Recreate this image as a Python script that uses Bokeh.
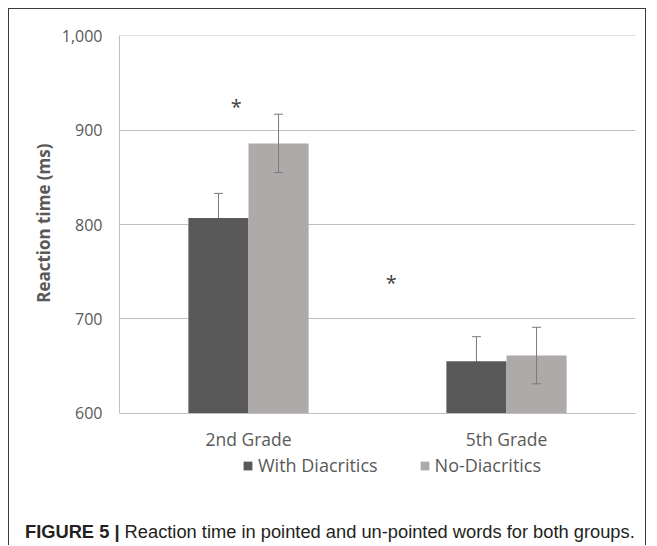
from bokeh.plotting import figure
from bokeh.models import (ColumnDataSource, Range1d, FixedTicker, NumeralTickFormatter,
                          Whisker, TeeHead, Legend, LegendItem, Div, Title)
from bokeh.transform import dodge
from bokeh.core.properties import value
from bokeh.embed import file_html
from bokeh.resources import INLINE

# ---- data ----
grades = ["2nd Grade", "5th Grade"]
series_names = ["With Diacritics", "No-Diacritics"]
with_diacritics = [807, 655]
with_err = [26, 26]
no_diacritics = [886, 661]
no_err = [31, 30]
y_ticks = [600, 700, 800, 900, 1000]
y_title = "Reaction time (ms)"
star_grades = ["2nd Grade", "5th Grade"]
star_y = [925, 739]
caption_bold = "FIGURE 5 |"
caption_text = "Reaction time in pointed and un-pointed words for both groups."

DARK = "#595959"
LIGHT = "#aeaaaa"
GRID = "#bfbfbf"
TXT = "#595959"
FONT = "Open Sans"
FRAME_BORDER = "1px solid #3a3a3a"
BASE = y_ticks[0]

src = ColumnDataSource(dict(
    grade=grades,
    wd=with_diacritics,
    wd_up=[v + e for v, e in zip(with_diacritics, with_err)],
    wd_lo=[v - e for v, e in zip(with_diacritics, with_err)],
    nd=no_diacritics,
    nd_up=[v + e for v, e in zip(no_diacritics, no_err)],
    nd_lo=[v - e for v, e in zip(no_diacritics, no_err)],
))

# the frame extends below the 600 baseline to leave room for the legend
p = figure(x_range=grades, y_range=Range1d(529.5, 1000.5), width=638, height=506,
           output_backend="svg", toolbar_location=None,
           min_border_left=110, min_border_right=12, min_border_top=26, min_border_bottom=36)
p.styles = {"margin-left": "8px", "margin-top": "8px",
            "border-left": FRAME_BORDER, "border-top": FRAME_BORDER, "border-right": FRAME_BORDER}
p.outline_line_color = None
p.background_fill_color = "white"
p.border_fill_color = "white"

bw = 0.233
off = bw / 2
r1 = p.vbar(x=dodge("grade", -off, range=p.x_range), top="wd", bottom=BASE, width=bw,
            source=src, fill_color=DARK, line_color=None)
r2 = p.vbar(x=dodge("grade", off, range=p.x_range), top="nd", bottom=BASE, width=bw,
            source=src, fill_color=LIGHT, line_color=None)

ecol = "#7a7a7a"
w1 = Whisker(base=dodge("grade", -off, range=p.x_range), upper="wd_up", lower="wd_lo", source=src,
             line_color=ecol, line_width=1, level="underlay",
             upper_head=TeeHead(size=9, line_color=ecol, line_width=1),
             lower_head=TeeHead(size=9, line_color=ecol, line_width=1))
w2 = Whisker(base=dodge("grade", off, range=p.x_range), upper="nd_up", lower="nd_lo", source=src,
             line_color=ecol, line_width=1, level="overlay",
             upper_head=TeeHead(size=9, line_color=ecol, line_width=1),
             lower_head=TeeHead(size=9, line_color=ecol, line_width=1))
p.add_layout(w1)
p.add_layout(w2)

# significance asterisks
s1 = ColumnDataSource(dict(x=[star_grades[0]], y=[star_y[0]], t=["*"]))
s2 = ColumnDataSource(dict(x=[star_grades[1]], y=[star_y[1]], t=["*"]))
p.text(x=dodge("x", -0.047, range=p.x_range), y="y", text="t", source=s1,
       text_align="center", text_baseline="middle", text_font=value(FONT),
       text_font_size="20px", text_color="#404040")
p.text(x=dodge("x", -0.447, range=p.x_range), y="y", text="t", source=s2,
       text_align="center", text_baseline="middle", text_font=value(FONT),
       text_font_size="20px", text_color="#404040")

# axes
p.yaxis.ticker = FixedTicker(ticks=y_ticks)
p.yaxis.bounds = (y_ticks[0], y_ticks[-1])
p.yaxis.formatter = NumeralTickFormatter(format="0,0")
p.yaxis.axis_line_color = GRID
p.yaxis.major_tick_line_color = None
p.yaxis.minor_tick_line_color = None
p.yaxis.major_tick_out = 0
p.yaxis.major_label_standoff = 17
p.yaxis.major_label_text_font = FONT
p.yaxis.major_label_text_font_size = "16px"
p.yaxis.major_label_text_color = TXT

# y-axis title: placed as a left-side title so it centres on the 600-1000 span
ytitle = Title(text=y_title, align="right", offset=108, standoff=7,
               text_font=FONT, text_font_style="bold", text_font_size="17px",
               text_color=TXT)
p.add_layout(ytitle, "left")

p.xaxis.fixed_location = BASE
p.xaxis.axis_line_color = GRID
p.xaxis.major_tick_line_color = None
p.xaxis.minor_tick_line_color = None
p.xaxis.major_tick_out = 0
p.xaxis.major_label_standoff = 14
p.xaxis.major_label_text_font = FONT
p.xaxis.major_label_text_font_size = "17.5px"
p.xaxis.major_label_text_color = TXT

p.xgrid.grid_line_color = None
p.ygrid.grid_line_color = GRID
p.ygrid.ticker = FixedTicker(ticks=y_ticks)

legend = Legend(items=[LegendItem(label=series_names[0], renderers=[r1]),
                       LegendItem(label=series_names[1], renderers=[r2])],
                orientation="horizontal", location=(123, 2),
                glyph_width=11, glyph_height=11, label_standoff=5, spacing=41,
                padding=0, margin=0, border_line_color=None, background_fill_alpha=0,
                label_text_font=FONT, label_text_font_size="18px", label_text_color=TXT)
p.add_layout(legend)

div = Div(
    text=(f'<div style="padding:13px 0 0 16px; font-family:\'Liberation Sans\', Arial, sans-serif; '
          f'font-size:18.3px; line-height:20px; color:#231f20; white-space:nowrap">'
          f'<b>{caption_bold}</b> {caption_text}</div>'),
    width=638, height=36,
    styles={"margin-left": "8px", "margin-top": "-5px",
            "border-left": FRAME_BORDER, "border-right": FRAME_BORDER,
            "background": "white"})

open("out.html", "w").write(file_html([p, div], INLINE))
